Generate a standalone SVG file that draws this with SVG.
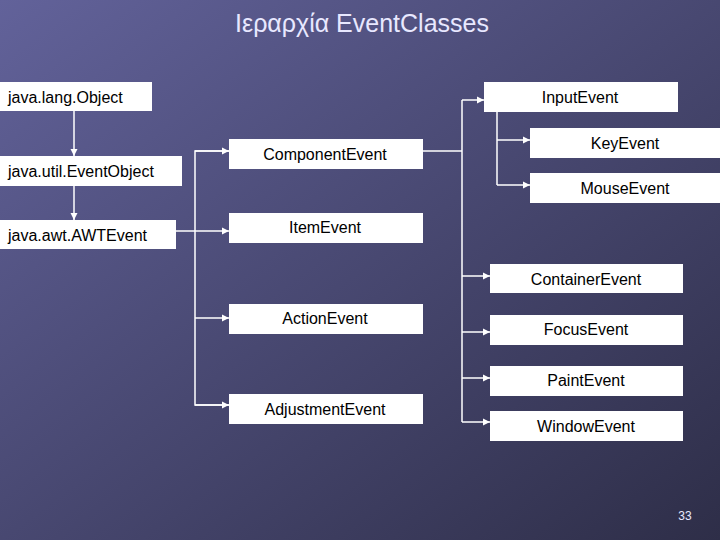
<svg xmlns="http://www.w3.org/2000/svg" width="720" height="540" viewBox="0 0 720 540">
<defs>
<linearGradient id="bg" x1="0" y1="0" x2="1" y2="1">
<stop offset="0" stop-color="#62629a"/><stop offset="1" stop-color="#2e2e48"/>
</linearGradient>
<marker id="a" viewBox="0 0 10 10" refX="10" refY="5" markerWidth="5" markerHeight="5" orient="auto"><path d="M0,0L10,5L0,10z" fill="#fff"/></marker>
<style>
.b{fill:#fff}
.t{font-family:"Liberation Sans",Arial,sans-serif;font-size:16px;fill:#000}
.c{text-anchor:middle}
.l{stroke:#fff;stroke-width:1.5;fill:none}
</style>
</defs>
<rect width="720" height="540" fill="url(#bg)"/>
<text x="362" y="32" font-family="'Liberation Sans',Arial,sans-serif" font-size="25" fill="#e8e8ff" text-anchor="middle">Ιεραρχία EventClasses</text>
<g id="connectors">
<path class="l" d="M74,111V156" marker-end="url(#a)"/>
<path class="l" d="M74,186V220" marker-end="url(#a)"/>
<path class="l" d="M176,231H229" marker-end="url(#a)"/>
<path class="l" d="M229,151H195V405H229"/>
<path class="l" d="M195,151H229" marker-end="url(#a)"/>
<path class="l" d="M195,318H229" marker-end="url(#a)"/>
<path class="l" d="M195,405H229" marker-end="url(#a)"/>
<path class="l" d="M423,151H462"/>
<path class="l" d="M462,100V422"/>
<path class="l" d="M462,100H484" marker-end="url(#a)"/>
<path class="l" d="M462,276H490" marker-end="url(#a)"/>
<path class="l" d="M462,332H490" marker-end="url(#a)"/>
<path class="l" d="M462,378H490" marker-end="url(#a)"/>
<path class="l" d="M462,422H490" marker-end="url(#a)"/>
<path class="l" d="M497,112V185"/>
<path class="l" d="M497,140H530" marker-end="url(#a)"/>
<path class="l" d="M497,185H530" marker-end="url(#a)"/>
</g>
<g id="object"><rect class="b" x="0" y="82" width="152" height="29"/><text class="t" x="8" y="103">java.lang.Object</text></g>
<g id="eventobject"><rect class="b" x="0" y="156" width="182" height="30"/><text class="t" x="8" y="177">java.util.EventObject</text></g>
<g id="awtevent"><rect class="b" x="0" y="220" width="176" height="29"/><text class="t" x="8" y="241">java.awt.AWTEvent</text></g>
<g id="component"><rect class="b" x="229" y="139" width="194" height="30"/><text class="t c" x="325" y="160">ComponentEvent</text></g>
<g id="item"><rect class="b" x="229" y="213" width="194" height="30"/><text class="t c" x="325" y="233">ItemEvent</text></g>
<g id="action"><rect class="b" x="229" y="304" width="194" height="30"/><text class="t c" x="325" y="324">ActionEvent</text></g>
<g id="adjustment"><rect class="b" x="229" y="394" width="194" height="30"/><text class="t c" x="325" y="415">AdjustmentEvent</text></g>
<g id="input"><rect class="b" x="484" y="82" width="194" height="30"/><text class="t c" x="580" y="103">InputEvent</text></g>
<g id="key"><rect class="b" x="530" y="128" width="190" height="30"/><text class="t c" x="625" y="149">KeyEvent</text></g>
<g id="mouse"><rect class="b" x="530" y="173" width="190" height="30"/><text class="t c" x="625" y="194">MouseEvent</text></g>
<g id="container"><rect class="b" x="490" y="264" width="193" height="29"/><text class="t c" x="586" y="285">ContainerEvent</text></g>
<g id="focus"><rect class="b" x="490" y="315" width="193" height="30"/><text class="t c" x="586" y="335">FocusEvent</text></g>
<g id="paint"><rect class="b" x="490" y="366" width="193" height="30"/><text class="t c" x="586" y="386">PaintEvent</text></g>
<g id="window"><rect class="b" x="490" y="411" width="193" height="30"/><text class="t c" x="586" y="432">WindowEvent</text></g>
<text x="685" y="520" font-family="'Liberation Sans',Arial,sans-serif" font-size="12" fill="#e8e8ff" text-anchor="middle">33</text>
</svg>
